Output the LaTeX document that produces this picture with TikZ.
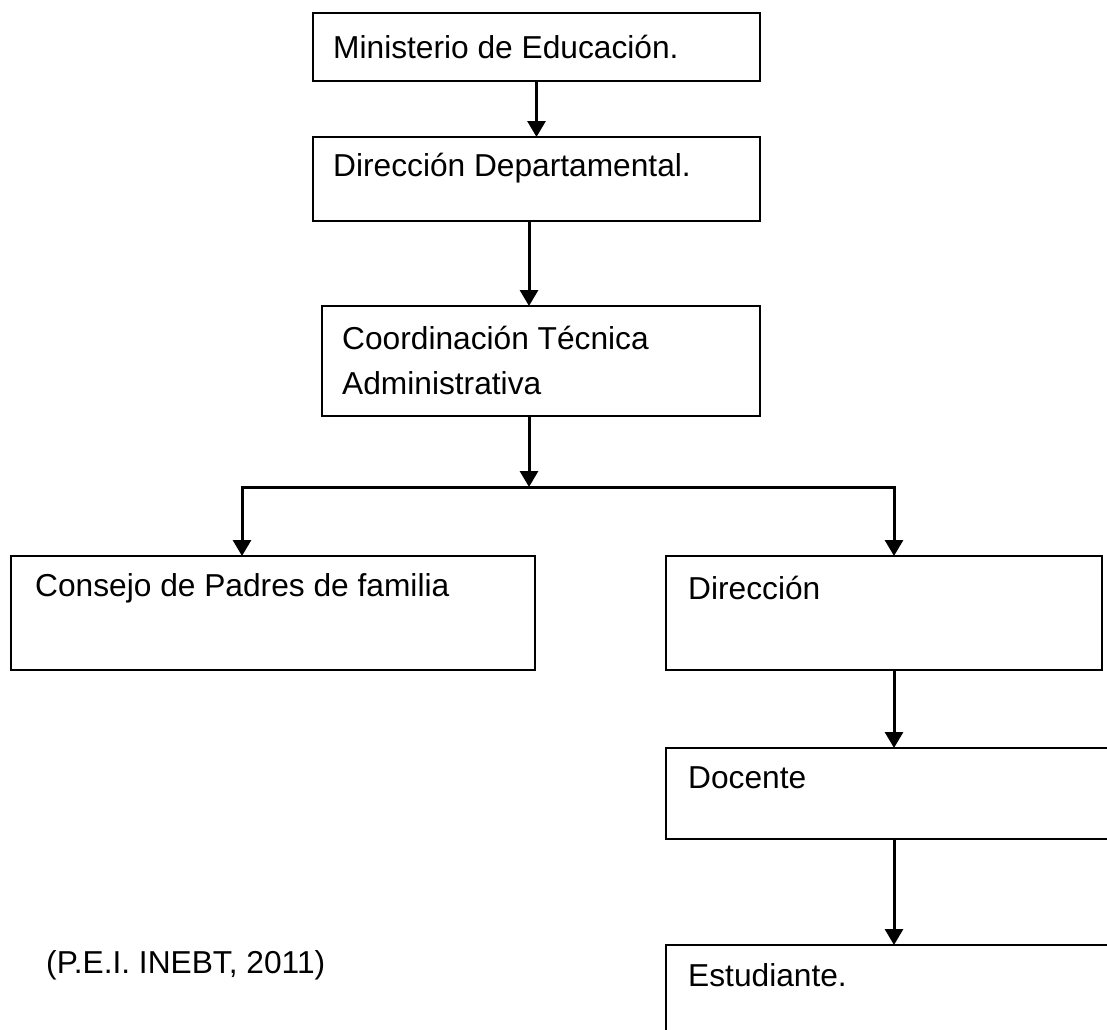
\documentclass[tikz,border=0pt]{standalone}
\usepackage{fontspec}
\setmainfont{Liberation Sans}
\usetikzlibrary{arrows.meta}
\begin{document}
\begin{tikzpicture}[x=1pt,y=-1pt,
  box/.style={draw=black,line width=2pt,rectangle,anchor=north west,inner sep=0pt,outer sep=0pt},
  lbl/.style={anchor=west,inner sep=0pt,font=\fontsize{31.7}{45}\selectfont,align=left},
  arr/.style={line width=3pt,-{Triangle[width=18pt,length=16pt]}},
  ln/.style={line width=3pt}]
\useasboundingbox (0,0) rectangle (1107,1029);
\fill[white] (0,0) rectangle (1107,1029);
\begin{scope}
\clip (0,0) rectangle (1107,1029);
% boxes
\node[box,minimum width=447pt,minimum height=68pt] (min) at (313,13) {};
\node[box,minimum width=447pt,minimum height=84pt] (dep) at (313,137) {};
\node[box,minimum width=438pt,minimum height=110pt] (coord) at (322,306) {};
\node[box,minimum width=524pt,minimum height=114pt] (cons) at (11,556) {};
\node[box,minimum width=436pt,minimum height=114pt] (dir) at (666,556) {};
\node[box,minimum width=460pt,minimum height=91pt] (doc) at (666,748) {};
\node[box,minimum width=460pt,minimum height=110pt] (est) at (666,945) {};
% texts
\node[lbl] (tmin) at (333,47) {Ministerio de Educación.};
\node[lbl] (tdep) at (333,168) {Dirección Departamental.};
\node[lbl] (tcoord) at (342,360) {Coordinación Técnica\\Administrativa};
\node[lbl] (tcons) at (35,588) {Consejo de Padres de familia};
\node[lbl] (tdir) at (688,588) {Dirección};
\node[lbl] (tdoc) at (688,778) {Docente};
\node[lbl] (test) at (688,975) {Estudiante.};
\node[lbl] (cite) at (46,965) {(P.E.I. INEBT, 2011)};
% junctions
\coordinate (j) at (529,487);
\coordinate (jl) at (242,487);
\coordinate (jr) at (894,487);
% connectors
\draw[arr] (min.south) -- (dep.north);
\draw[arr] (dep.south -| j) -- (coord.north -| j);
\draw[arr] (coord.south -| j) -- (j);
\draw[ln] ([xshift=-1.5pt]jl) -- ([xshift=1.5pt]jr);
\draw[arr] (jl) -- (cons.north -| jl);
\draw[arr] (jr) -- (dir.north -| jr);
\draw[arr] (dir.south -| jr) -- (doc.north -| jr);
\draw[arr] (doc.south -| jr) -- (est.north -| jr);
\end{scope}
\end{tikzpicture}
\end{document}
